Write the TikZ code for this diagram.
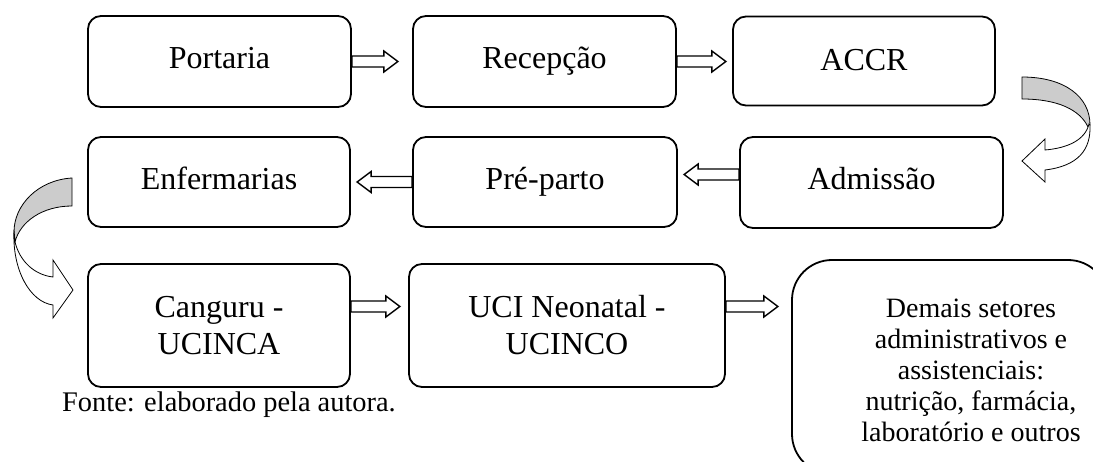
\documentclass[tikz,border=0pt]{standalone}
\usepackage{fontspec}
\setmainfont{Liberation Serif}
\usetikzlibrary{calc}
\tikzset{
 boxbase/.style={draw, line width=1.8pt, rounded corners=13pt, inner sep=0pt, font=\fontsize{32}{37}\selectfont},
 box/.style={boxbase, text height=24pt, text depth=9pt},
 barrow/.style={draw, line width=1.4pt, fill=white, line join=miter},
 carrow/.style={draw, line width=0.8pt, line join=miter},
}
\newcommand\rarrow[2]{\path[barrow] #1 ++(0,5.5) -- ++({#2-14},0) -- ++(0,5) -- ++(14,-10.5) -- ++(-14,-10.5) -- ++(0,5) -- ++({14-#2},0) -- cycle;}
\newcommand\larrow[2]{\path[barrow] #1 ++(0,5.5) -- ++({14-#2},0) -- ++(0,5) -- ++(-14,-10.5) -- ++(14,-10.5) -- ++(0,5) -- ++({#2-14},0) -- cycle;}
\begin{document}
\begin{tikzpicture}[x=1pt,y=-1pt]
\useasboundingbox (0,0) rectangle (1093,462);
\clip (0,0) rectangle (1093,462);
% row 1
\node[box, minimum width=263pt, minimum height=91pt] (portaria) at (219.5,61.5) {Portaria};
\node[box, minimum width=263pt, minimum height=91pt] (recepcao) at (544.5,61.5) {Recepção};
\node[box, minimum width=262pt, minimum height=89pt, text height=26pt, text depth=7pt] (accr) at (864,61) {ACCR};
% row 2
\node[box, minimum width=262pt, minimum height=90pt] (enfermarias) at (219,182) {Enfermarias};
\node[box, minimum width=264pt, minimum height=90pt] (preparto) at (545,182) {Pré-parto};
\node[box, minimum width=263pt, minimum height=91pt] (admissao) at (871.5,182.5) {Admissão};
% row 3
\node[boxbase, align=center, minimum width=262pt, minimum height=123pt] (canguru) at (219,325.5) {Canguru -\\ UCINCA};
\node[boxbase, align=center, minimum width=316pt, minimum height=123pt] (uci) at (567,325.5) {UCI Neonatal -\\ UCINCO};
\node[draw, line width=1.8pt, rounded corners=40pt, minimum width=316pt, minimum height=214pt] (demais) at (950,367) {};
\node[align=center, inner sep=0pt, font=\fontsize{28}{31}\selectfont] (demaistxt) at (971,370) {Demais setores\\ administrativos e\\ assistenciais:\\ nutrição, farmácia,\\ laboratório e outros};
\node[anchor=base west, inner sep=0pt, font=\fontsize{28.4}{32}\selectfont] (fonte) at (62,412) {Fonte: elaborado pela autora.};
% straight block arrows
\rarrow{(portaria.east)}{46}
\rarrow{(recepcao.east)}{49}
\larrow{($(admissao.west)+(0,-8)$)}{55}
\larrow{(preparto.west)}{55}
\rarrow{($(canguru.east)+(0,-19)$)}{49}
\rarrow{($(uci.east)+(0,-19)$)}{52}
% curved arrow right (ACCR -> Admissao)
\path[carrow, fill=black!20] (1022,77) .. controls (1065,77) and (1090,97) .. (1090,125)
  -- (1088,127) .. controls (1080,110) and (1058,99) .. (1022,99) -- cycle;
\path[carrow, fill=white] (1089,124) .. controls (1085,140) and (1068,148) .. (1045,150)
  -- (1045,139) -- (1022,161) -- (1045,182) -- (1045,170)
  .. controls (1078,166) and (1091,150) .. (1090,125) -- cycle;
% curved arrow left (Enfermarias -> Canguru)
\path[carrow, fill=black!20] (72,178) .. controls (38,180) and (14,205) .. (14,232)
  -- (15,242) .. controls (20,222) and (42,206) .. (72,206) -- cycle;
\path[carrow, fill=white] (14,230) .. controls (12,270) and (30,302) .. (53,305)
  -- (53,318) -- (73,290) -- (53,260) -- (53,277)
  .. controls (35,275) and (20,262) .. (15,242) -- cycle;
\end{tikzpicture}
\end{document}
